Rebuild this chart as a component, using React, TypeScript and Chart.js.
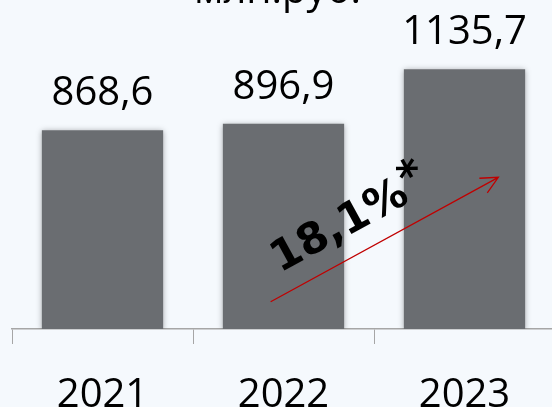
import React, { useEffect, useRef } from "react";
import { Chart, registerables } from "chart.js";

Chart.register(...registerables);

const categories = ["2021", "2022", "2023"];
const values = [868.6, 896.9, 1135.7];
const valueLabels = ["868,6", "896,9", "1135,7"];
const unitLabel = "млн.руб.";
const growthLabel = "18,1%";
const growthMark = "*";
// arrow anchors in data space: [category index, value]
const arrowStart = [0.929, 119];
const arrowEnd = [2.187, 663];
const growthTextAnchor = [0.981, 245];

const BAR_COLOR = "#6a6d71";
const FONT = "'Open Sans', 'Noto Sans', sans-serif";

export default function App() {
  const ref = useRef<HTMLCanvasElement | null>(null);

  useEffect(() => {
    const canvas = ref.current;
    if (!canvas) return;

    const shadowPlugin = {
      id: "barShadow",
      beforeDatasetsDraw(chart: any) {
        const ctx = chart.ctx;
        ctx.save();
        ctx.shadowColor = "rgba(0,0,0,0.35)";
        ctx.shadowBlur = 6;
        ctx.shadowOffsetX = 0;
        ctx.shadowOffsetY = 1;
      },
      afterDatasetsDraw(chart: any) {
        chart.ctx.restore();
      },
    };

    const annotPlugin = {
      id: "annot",
      afterDraw(chart: any) {
        const ctx = chart.ctx;
        const xs = chart.scales.x;
        const ys = chart.scales.y;
        const meta = chart.getDatasetMeta(0);

        // value labels
        ctx.save();
        ctx.fillStyle = "#000";
        ctx.font = `40px ${FONT}`;
        ctx.textAlign = "center";
        ctx.textBaseline = "alphabetic";
        meta.data.forEach((el: any, i: number) => {
          ctx.fillText(valueLabels[i], el.x, el.y - 25);
        });

        // unit title (partly cut off at the top)
        ctx.fillText(unitLabel, chart.width / 2, 3);
        ctx.restore();

        // arrow
        const x1 = xs.getPixelForValue(arrowStart[0]);
        const y1 = ys.getPixelForValue(arrowStart[1]);
        const x2 = xs.getPixelForValue(arrowEnd[0]);
        const y2 = ys.getPixelForValue(arrowEnd[1]);
        const ang = Math.atan2(y2 - y1, x2 - x1);
        ctx.save();
        ctx.strokeStyle = "#c00000";
        ctx.lineWidth = 1.3;
        ctx.beginPath();
        ctx.moveTo(x1, y1);
        ctx.lineTo(x2, y2);
        const hl = 19;
        const ha = 0.45;
        ctx.moveTo(x2 - hl * Math.cos(ang - ha), y2 - hl * Math.sin(ang - ha));
        ctx.lineTo(x2, y2);
        ctx.lineTo(x2 - hl * Math.cos(ang + ha), y2 - hl * Math.sin(ang + ha));
        ctx.stroke();
        ctx.restore();

        // growth text
        const tx = xs.getPixelForValue(growthTextAnchor[0]);
        const ty = ys.getPixelForValue(growthTextAnchor[1]);
        ctx.save();
        ctx.translate(tx, ty);
        ctx.rotate(ang);
        ctx.fillStyle = "#000";
        ctx.font = `bold 43px 'DejaVu Sans', sans-serif`;
        ctx.textAlign = "left";
        ctx.textBaseline = "alphabetic";
        ctx.fillText(growthLabel, 0, 0);
        const w = ctx.measureText(growthLabel).width;
        ctx.fillText(growthMark, w + 1, -9);
        ctx.restore();
      },
    };

    const chart = new Chart(canvas, {
      type: "bar",
      data: {
        labels: categories,
        datasets: [
          {
            data: values,
            backgroundColor: BAR_COLOR,
            borderWidth: 0,
            categoryPercentage: 1,
            barPercentage: 0.67,
          },
        ],
      },
      options: {
        animation: false,
        responsive: false,
        maintainAspectRatio: false,
        devicePixelRatio: 1,
        layout: { padding: { left: 12, right: 0, top: 0, bottom: 0 } },
        plugins: {
          legend: { display: false },
          tooltip: { enabled: false },
          title: { display: false },
        },
        scales: {
          x: {
            type: "category",
            offset: true,
            grid: {
              display: true,
              offset: true,
              drawOnChartArea: false,
              drawTicks: true,
              tickLength: 15,
              color: "#a6a6a6",
              lineWidth: 1,
            },
            border: { display: true, color: "#a6a6a6", width: 1.5 },
            ticks: {
              color: "#000",
              font: { family: FONT, size: 40, lineHeight: 1.2 },
              padding: 28,
              maxRotation: 0,
              autoSkip: false,
            },
            afterFit: (scale: any) => {
              scale.height = 78;
            },
          },
          y: {
            display: false,
            min: 0,
            max: 1438,
          },
        },
      },
      plugins: [shadowPlugin, annotPlugin],
    });

    return () => chart.destroy();
  }, []);

  return (
    <div
      style={{
        position: "fixed",
        left: 0,
        top: 0,
        width: 552,
        height: 407,
        overflow: "hidden",
        background: "#f5f9fd",
      }}
    >
      <canvas
        ref={ref}
        width={555}
        height={407}
        style={{ width: 555, height: 407, display: "block" }}
      />
    </div>
  );
}
